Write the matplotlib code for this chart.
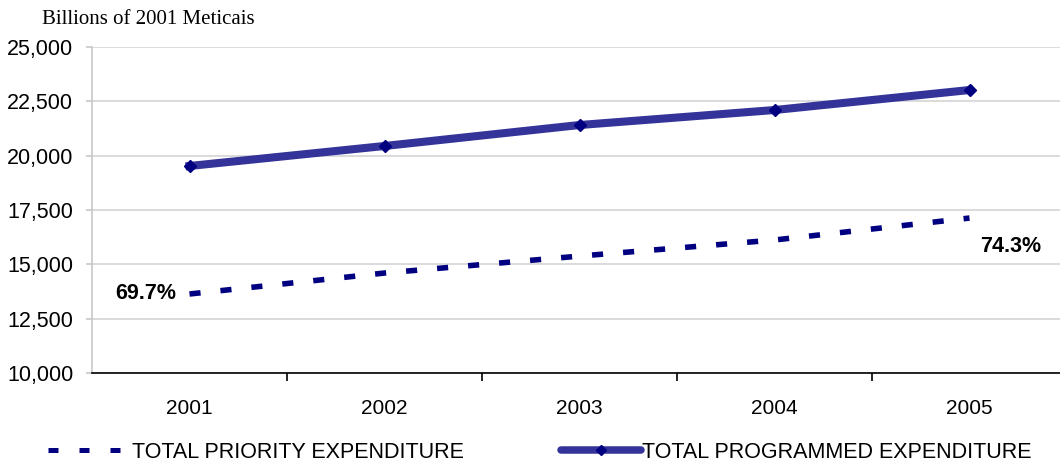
import matplotlib
matplotlib.use("Agg")
import matplotlib.pyplot as plt
from matplotlib.lines import Line2D
from matplotlib.ticker import FuncFormatter, MultipleLocator

years = ["2001", "2002", "2003", "2004", "2005"]
programmed = [19525, 20445, 21410, 22100, 23020]
priority = [13635, 14600, 15380, 16120, 17130]
share_labels = ["69.7%", "74.3%"]

W, H = 1060, 466
fig = plt.figure(figsize=(W / 100, H / 100), dpi=100)
x0, x1, yb, yt = 92, 1067, 373, 47
ax = fig.add_axes([x0 / W, 1 - yb / H, (x1 - x0) / W, (yb - yt) / H])

xs = list(range(len(years)))
ax.set_xlim(-0.5, len(years) - 0.5)
ax.set_ylim(10000, 25000)

ax.yaxis.set_major_locator(MultipleLocator(2500))
ax.yaxis.set_major_formatter(FuncFormatter(lambda v, p: f"{int(v):,}"))
ax.grid(axis="y", color="#d4d4d4", linewidth=1.2)
ax.set_axisbelow(True)

ax.plot(xs, priority, color="#000080", linewidth=4.0, linestyle=(0, (2.0, 3.6)),
        solid_capstyle="butt", dash_capstyle="butt", zorder=3)
ax.plot(xs, programmed, color="#333399", linewidth=5.8, marker="D",
        markersize=5.8, markerfacecolor="#000080", markeredgecolor="#000080",
        markeredgewidth=1.0, zorder=4)

ax.text(xs[0] - 0.07, priority[0], share_labels[0], ha="right", va="center",
        fontsize=15.5, fontweight="bold", family="Liberation Sans")
ax.text(xs[-1] + 0.055, priority[-1] - 1300, share_labels[1], ha="left", va="center",
        fontsize=15.5, fontweight="bold", family="Liberation Sans")

for s in ["top", "right"]:
    ax.spines[s].set_visible(False)
ax.spines["left"].set_color("#c8c8c8")
ax.spines["left"].set_linewidth(1.2)
ax.spines["bottom"].set_color("black")
ax.spines["bottom"].set_linewidth(1.2)

ax.set_xticks(xs)
ax.set_xticklabels(years, fontsize=15, family="Liberation Sans")
ax.tick_params(axis="x", which="major", length=0, pad=19)
ax.set_xticks([i + 0.5 for i in xs[:-1]], minor=True)
ax.tick_params(axis="x", which="minor", length=6, width=1.2, color="black", direction="out")
ax.tick_params(axis="y", length=4.5, width=1.2, color="#c8c8c8", labelsize=15.5, pad=9)
for lab in ax.get_yticklabels():
    lab.set_family("Liberation Sans")

fig.text(42 / W, 1 - 20 / H, "Billions of 2001 Meticais", ha="left", va="center",
         fontsize=15, family="Liberation Serif")

# legend
h1 = Line2D([], [], color="#000080", linewidth=3.6, linestyle=(0, (2.0, 4.2)),
            dash_capstyle="butt")
h2 = Line2D([], [], color="#333399", linewidth=5.4, marker="D", markersize=5.5,
            markerfacecolor="#000080", markeredgecolor="#000080",
            solid_capstyle="round")
fs = 15.5
leg1 = fig.legend([h1], ["TOTAL PRIORITY EXPENDITURE"], loc="center left",
                  bbox_to_anchor=(48 / W, 1 - 452 / H), frameon=False,
                  handlelength=72 / (fs * 1.389), handletextpad=0.55,
                  borderpad=0, borderaxespad=0,
                  prop={"family": "Liberation Sans", "size": fs})
leg2 = fig.legend([h2], ["TOTAL PROGRAMMED EXPENDITURE"], loc="center left",
                  bbox_to_anchor=(561 / W, 1 - 452 / H), frameon=False,
                  handlelength=80 / (fs * 1.389), handletextpad=0.05,
                  borderpad=0, borderaxespad=0,
                  prop={"family": "Liberation Sans", "size": fs})

fig.savefig("out.png", dpi=100)
